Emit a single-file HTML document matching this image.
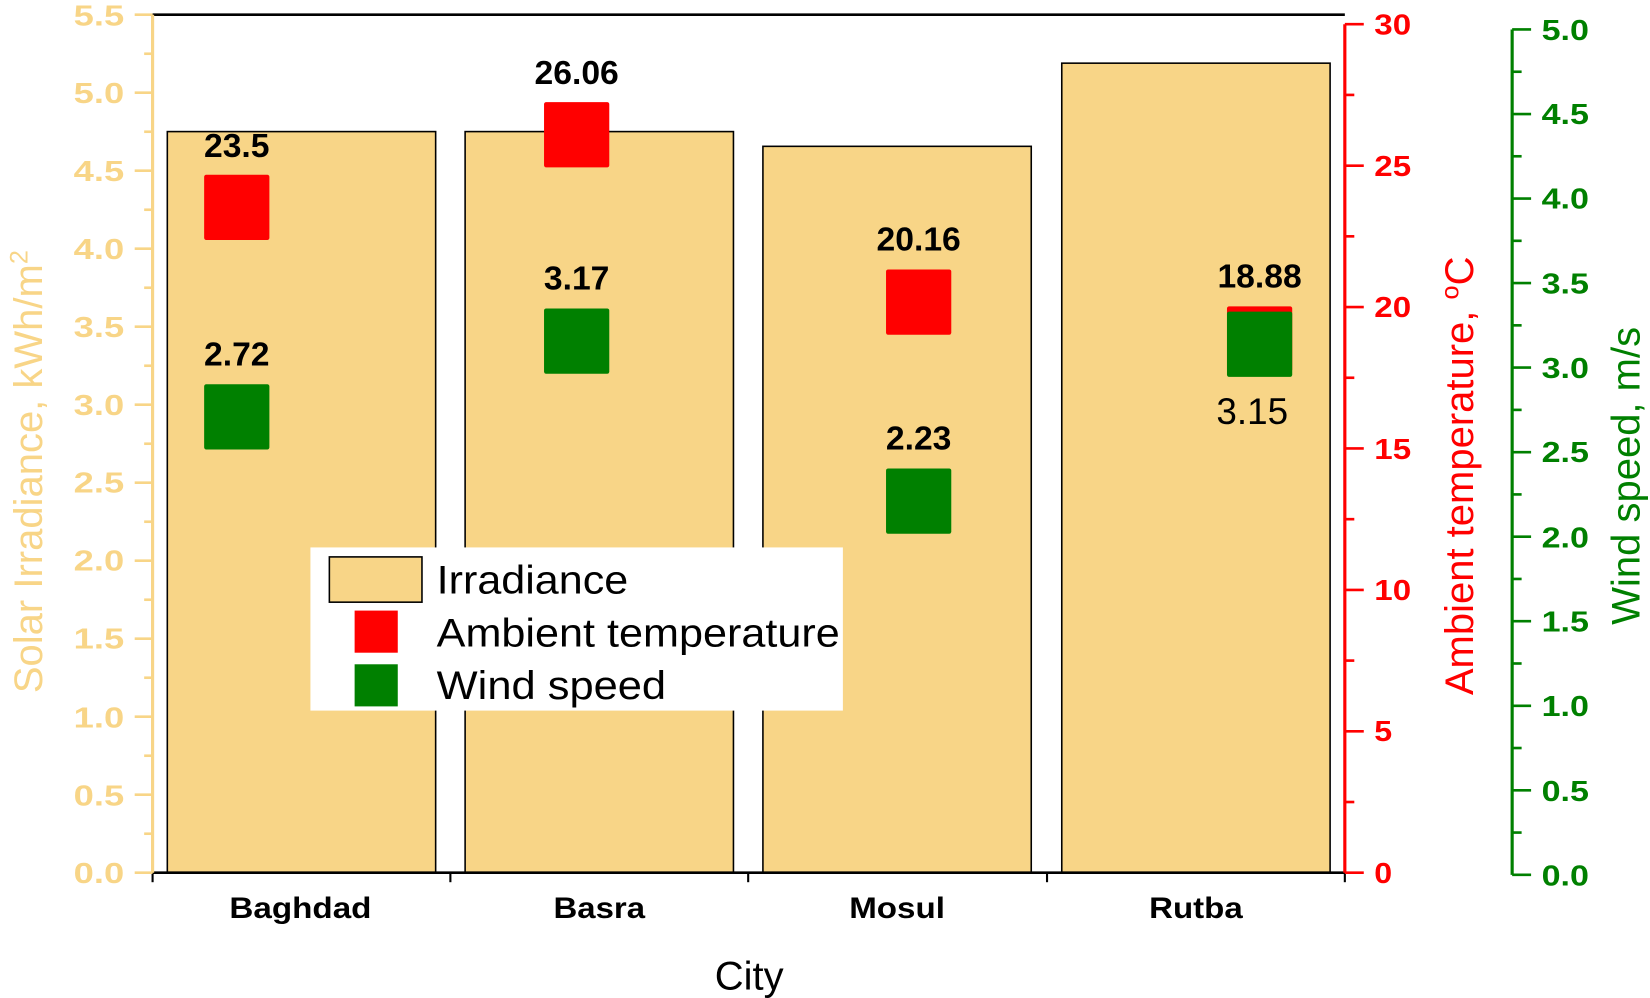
<!DOCTYPE html>
<html><head><meta charset="utf-8"><style>html,body{margin:0;padding:0;background:#fff}svg{display:block}</style></head>
<body>
<svg width="1650" height="998" viewBox="0 0 1568 948" preserveAspectRatio="none" xmlns="http://www.w3.org/2000/svg" font-family="'Liberation Sans', sans-serif">
<rect width="1568" height="948" fill="#fff"/>
<g fill="#F8D587" stroke="#000" stroke-width="1.5">
<rect x="159" y="125" width="255" height="704"/>
<rect x="442" y="125" width="255" height="704"/>
<rect x="725" y="139" width="255" height="690"/>
<rect x="1009" y="60" width="255" height="769"/>
</g>
<line x1="145" y1="14" x2="1278" y2="14" stroke="#000" stroke-width="2.5"/>
<line x1="145" y1="829" x2="1278" y2="829" stroke="#000" stroke-width="2.5"/>
<g stroke="#000" stroke-width="2">
<line x1="145" y1="829" x2="145" y2="838"/><line x1="428" y1="829" x2="428" y2="838"/><line x1="711" y1="829" x2="711" y2="838"/><line x1="995" y1="829" x2="995" y2="838"/><line x1="1278" y1="829" x2="1278" y2="838"/>
</g>
<g font-weight="bold" font-size="28" fill="#000" lengthAdjust="spacingAndGlyphs">
<text x="218" y="872" textLength="135" lengthAdjust="spacingAndGlyphs">Baghdad</text>
<text x="526" y="872" textLength="87" lengthAdjust="spacingAndGlyphs">Basra</text>
<text x="807" y="872" textLength="91" lengthAdjust="spacingAndGlyphs">Mosul</text>
<text x="1092" y="872" textLength="89" lengthAdjust="spacingAndGlyphs">Rutba</text>
</g>
<text x="712" y="940" font-size="38" text-anchor="middle">City</text>
<line x1="145" y1="14" x2="145" y2="829" stroke="#F8D587" stroke-width="3"/>
<g id="lt" stroke="#F8D587" stroke-width="2.5"></g>
<g fill="#F8D587" font-size="27" font-weight="bold">
<text x="70" y="839" textLength="48" lengthAdjust="spacingAndGlyphs">0.0</text><text x="70" y="765" textLength="48" lengthAdjust="spacingAndGlyphs">0.5</text><text x="70" y="691" textLength="48" lengthAdjust="spacingAndGlyphs">1.0</text><text x="70" y="616" textLength="48" lengthAdjust="spacingAndGlyphs">1.5</text><text x="70" y="542" textLength="48" lengthAdjust="spacingAndGlyphs">2.0</text><text x="70" y="468" textLength="48" lengthAdjust="spacingAndGlyphs">2.5</text><text x="70" y="394" textLength="48" lengthAdjust="spacingAndGlyphs">3.0</text><text x="70" y="320" textLength="48" lengthAdjust="spacingAndGlyphs">3.5</text><text x="70" y="246" textLength="48" lengthAdjust="spacingAndGlyphs">4.0</text><text x="70" y="172" textLength="48" lengthAdjust="spacingAndGlyphs">4.5</text><text x="70" y="98" textLength="48" lengthAdjust="spacingAndGlyphs">5.0</text><text x="70" y="24" textLength="48" lengthAdjust="spacingAndGlyphs">5.5</text>
</g>
<text transform="translate(40,448) rotate(-90)" font-size="38" fill="#F8D587" text-anchor="middle">Solar Irradiance, kWh/m<tspan dy="-14" font-size="24">2</tspan></text>
<line x1="1278" y1="23" x2="1278" y2="829" stroke="#FF0000" stroke-width="3"/>
<g id="rt" stroke="#FF0000" stroke-width="2.5"></g>
<g fill="#FF0000" font-size="27" font-weight="bold">
<text x="1306" y="839" textLength="17" lengthAdjust="spacingAndGlyphs">0</text><text x="1306" y="704" textLength="17" lengthAdjust="spacingAndGlyphs">5</text><text x="1306" y="570" textLength="35" lengthAdjust="spacingAndGlyphs">10</text><text x="1306" y="436" textLength="35" lengthAdjust="spacingAndGlyphs">15</text><text x="1306" y="301" textLength="35" lengthAdjust="spacingAndGlyphs">20</text><text x="1306" y="167" textLength="35" lengthAdjust="spacingAndGlyphs">25</text><text x="1306" y="33" textLength="35" lengthAdjust="spacingAndGlyphs">30</text>
</g>
<text transform="translate(1400,452) rotate(-90)" font-size="38" fill="#FF0000" text-anchor="middle">Ambient temperature, <tspan dy="-14" font-size="24">o</tspan><tspan dy="14">C</tspan></text>
<line x1="1437" y1="28" x2="1437" y2="831" stroke="#008000" stroke-width="3"/>
<g id="gt" stroke="#008000" stroke-width="2.5"></g>
<g fill="#008000" font-size="27" font-weight="bold">
<text x="1465" y="841" textLength="45" lengthAdjust="spacingAndGlyphs">0.0</text><text x="1465" y="761" textLength="45" lengthAdjust="spacingAndGlyphs">0.5</text><text x="1465" y="680" textLength="45" lengthAdjust="spacingAndGlyphs">1.0</text><text x="1465" y="600" textLength="45" lengthAdjust="spacingAndGlyphs">1.5</text><text x="1465" y="520" textLength="45" lengthAdjust="spacingAndGlyphs">2.0</text><text x="1465" y="439" textLength="45" lengthAdjust="spacingAndGlyphs">2.5</text><text x="1465" y="359" textLength="45" lengthAdjust="spacingAndGlyphs">3.0</text><text x="1465" y="279" textLength="45" lengthAdjust="spacingAndGlyphs">3.5</text><text x="1465" y="198" textLength="45" lengthAdjust="spacingAndGlyphs">4.0</text><text x="1465" y="118" textLength="45" lengthAdjust="spacingAndGlyphs">4.5</text><text x="1465" y="38" textLength="45" lengthAdjust="spacingAndGlyphs">5.0</text>
</g>
<text transform="translate(1558,452) rotate(-90)" font-size="38" fill="#008000" text-anchor="middle">Wind speed, m/s</text>
<g>
<rect x="194" y="166" width="62" height="62" rx="2" fill="#FF0000"/>
<rect x="194" y="365" width="62" height="62" rx="2" fill="#008000"/>
<rect x="517" y="97" width="62" height="62" rx="2" fill="#FF0000"/>
<rect x="517" y="293" width="62" height="62" rx="2" fill="#008000"/>
<rect x="842" y="256" width="62" height="62" rx="2" fill="#FF0000"/>
<rect x="842" y="445" width="62" height="62" rx="2" fill="#008000"/>
<rect x="1166" y="291" width="62" height="62" rx="2" fill="#FF0000"/>
<rect x="1166" y="296" width="62" height="62" rx="2" fill="#008000"/>
</g>
<g font-weight="bold" font-size="32" text-anchor="middle" fill="#000">
<text x="225" y="149">23.5</text><text x="225" y="347">2.72</text>
<text x="548" y="80">26.06</text><text x="548" y="275">3.17</text>
<text x="873" y="238">20.16</text><text x="873" y="427">2.23</text>
<text x="1197" y="273">18.88</text>
</g>
<text x="1190" y="403" font-size="35" text-anchor="middle" fill="#000">3.15</text>
<rect x="295" y="520" width="506" height="155" fill="#fff"/>
<rect x="313" y="529" width="88" height="43" fill="#F8D587" stroke="#000" stroke-width="1.5"/>
<rect x="337" y="580" width="41" height="40" fill="#FF0000"/>
<rect x="337" y="631" width="41" height="40" fill="#008000"/>
<g font-size="38" fill="#000">
<text x="415" y="564" textLength="182" lengthAdjust="spacingAndGlyphs">Irradiance</text>
<text x="415" y="614" textLength="383" lengthAdjust="spacingAndGlyphs">Ambient temperature</text>
<text x="415" y="664" textLength="218" lengthAdjust="spacingAndGlyphs">Wind speed</text>
</g>
<script>
(function(){var ns="http://www.w3.org/2000/svg";
function t(g,x1,x2,y){var l=document.createElementNS(ns,"line");l.setAttribute("x1",x1);l.setAttribute("x2",x2);l.setAttribute("y1",y);l.setAttribute("y2",y);document.getElementById(g).appendChild(l);}
for(var i=0;i<=22;i++){var y=829-i*(815/22);t("lt",i%2?137:128,145,y);}
for(var i=0;i<=12;i++){var y=829-i*(806/12);t("rt",1278,i%2?1287:1296,y);}
for(var i=0;i<=20;i++){var y=831-i*(803/20);t("gt",1437,i%2?1446:1455,y);}
})();
</script>
</svg>
</body></html>
